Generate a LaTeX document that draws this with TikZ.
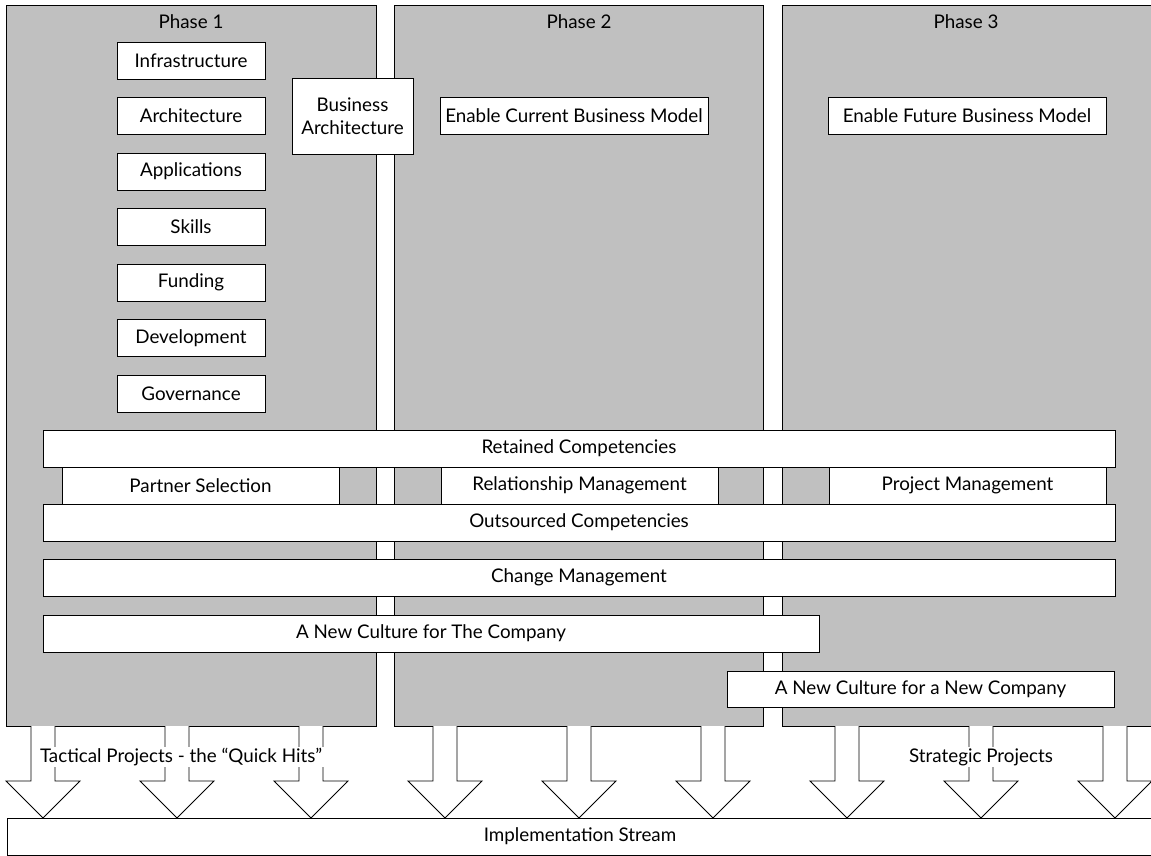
\documentclass[tikz,border=0pt]{standalone}
\usepackage{fontspec}
\setmainfont{Lato}
\begin{document}
\begin{tikzpicture}[x=1pt,y=-1pt,
  every node/.style={font=\fontsize{18.8}{23}\selectfont},
  line/.style={draw=black, line width=0.9pt},
  panel/.style={line, fill=panelgray, inner sep=0, anchor=north west},
  item/.style={line, fill=white, inner sep=0, minimum height=37pt},
  tag/.style={fill=white, inner sep=1.5pt},
  bigarrow/.style={line, fill=white, line join=miter}]
\definecolor{panelgray}{HTML}{C0C0C0}
\useasboundingbox (0,0) rectangle (1151,856);
\clip (0,0) rectangle (1151,856);

% the three phase panels
\node[panel, minimum width=370pt, minimum height=721pt] (ph1) at (6,5) {};
\node[panel, minimum width=369pt, minimum height=721pt] (ph2) at (394,5) {};
\node[panel, minimum width=380pt, minimum height=721pt] (ph3) at (782,5) {};
\node (t1) at (191,22) {Phase 1};
\node (t2) at (579,22) {Phase 2};
\node (t3) at (966,22) {Phase 3};

% phase 1 building blocks
\foreach \n/\txt [count=\i from 0] in {infra/Infrastructure, arch/Architecture,
    apps/Applications, skills/Skills, fund/Funding, dev/Development, gov/Governance}
  \node[item, minimum width=148pt] (\n) at (191,{60.5+55.5*\i}) {\txt};

\node[item, minimum width=121pt, minimum height=76pt, align=center]
  (busarch) at (352.5,116) {Business\\Architecture};
\node[item, minimum width=268pt] (current) at (574,115.5) {Enable Current Business Model};
\node[item, minimum width=278pt] (future) at (967,115.5) {Enable Future Business Model};

% competency bands
\node[item, minimum width=1072pt] (retained) at (579,448.5) {Retained Competencies};
\node[item, minimum width=277pt] (partner) at (200.5,485.5) {Partner Selection};
\node[item, minimum width=277pt] (relation) at (579.5,485.5) {Relationship Management};
\node[item, minimum width=277pt] (project) at (967.5,485.5) {Project Management};
\node[item, minimum width=1072pt] (outsourced) at (579,522.5) {Outsourced Competencies};
\node[item, minimum width=1072pt] (change) at (579,577.5) {Change Management};
\node[item, minimum width=776pt] (culture1) at (431,633.5) {A New Culture for The Company};
\node[item, minimum width=387pt, minimum height=36pt] (culture2) at (920.5,689) {A New Culture for a New Company};

% implementation stream and the project arrows feeding it
\node[item, minimum width=1146pt] (impl) at (580,836.5) {Implementation Stream};
\foreach \x in {43,177,...,1115}
  \draw[bigarrow] (\x-12,726) -- (\x-12,781) -- (\x-37,781) -- (\x,818)
    -- (\x+37,781) -- (\x+12,781) -- (\x+12,726);
\node[tag] (tactical) at (181,757) {Tactical Projects - the “Quick Hits”};
\node[tag] (strategic) at (981,757) {Strategic Projects};
\end{tikzpicture}
\end{document}
